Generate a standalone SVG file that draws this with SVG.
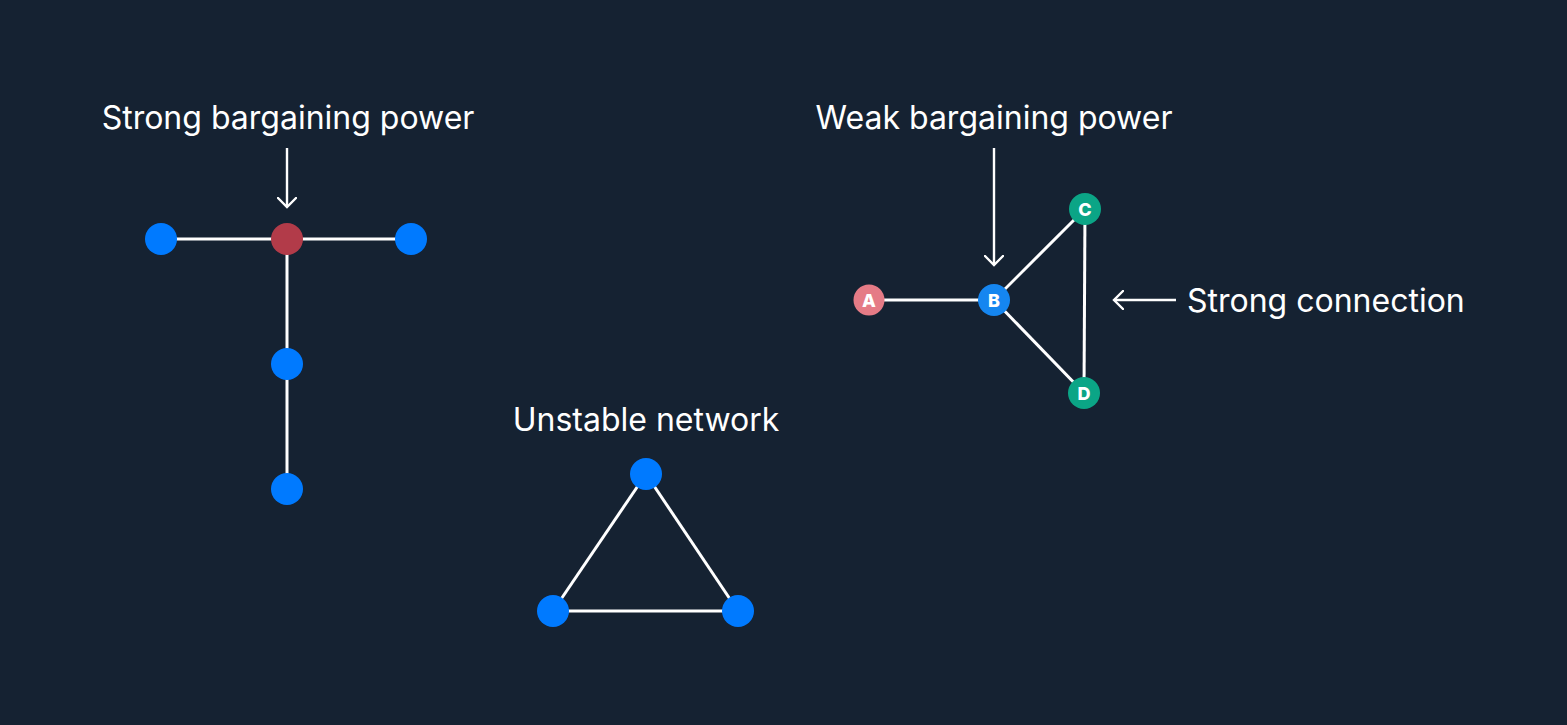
<svg xmlns="http://www.w3.org/2000/svg" width="1567" height="725" viewBox="0 0 1567 725">
<defs>
<marker id="chev" viewBox="0 0 20 20" refX="10" refY="10" markerWidth="20" markerHeight="20" markerUnits="userSpaceOnUse" orient="auto">
<path d="M1 1 L10 10 L1 19" fill="none" stroke="#ffffff" stroke-width="2.4" stroke-linecap="round"/>
</marker>
<style>
.lbl{font-family:Inter,"Noto Sans",sans-serif;font-size:32px;fill:#ffffff}
.edge{stroke:#ffffff;stroke-width:3;fill:none}
.arr{stroke:#ffffff;stroke-width:2.4;fill:none;marker-end:url(#chev)}
.blue{fill:#007AFF}
.letter{font-family:Inter,"Liberation Sans",sans-serif;font-size:18px;font-weight:800;fill:#ffffff;text-anchor:middle}
</style>
</defs>
<rect width="1567" height="725" fill="#152232"/>
<g id="connectors">
<line class="edge" x1="161" y1="239" x2="411" y2="239"/>
<line class="edge" x1="287" y1="239" x2="287" y2="489"/>
<line class="arr" x1="287" y1="148" x2="287" y2="207"/>
<line class="edge" x1="646" y1="474" x2="553" y2="611"/>
<line class="edge" x1="646" y1="474" x2="738" y2="611"/>
<line class="edge" x1="553" y1="611" x2="738" y2="611"/>
<line class="edge" x1="869" y1="300" x2="994" y2="300"/>
<line class="edge" x1="994" y1="300" x2="1085" y2="209"/>
<line class="edge" x1="994" y1="300" x2="1084" y2="393"/>
<line class="edge" x1="1085" y1="209" x2="1084" y2="393"/>
<line class="arr" x1="994" y1="148" x2="994" y2="265"/>
<line class="arr" x1="1176" y1="300" x2="1114" y2="300"/>
</g>
<g id="label-strong"><text class="lbl" x="288" y="129" text-anchor="middle">Strong bargaining power</text></g>
<g id="label-weak"><text class="lbl" x="994" y="129" text-anchor="middle">Weak bargaining power</text></g>
<g id="label-unstable"><text class="lbl" x="646" y="431" text-anchor="middle">Unstable network</text></g>
<g id="label-connection"><text class="lbl" x="1187" y="312">Strong connection</text></g>
<g id="t1"><circle class="blue" cx="161" cy="239" r="16"/></g>
<g id="t2"><circle cx="287" cy="239" r="16" fill="#B23B49"/></g>
<g id="t3"><circle class="blue" cx="411" cy="239" r="16"/></g>
<g id="t4"><circle class="blue" cx="287" cy="364" r="16"/></g>
<g id="t5"><circle class="blue" cx="287" cy="489" r="16"/></g>
<g id="u1"><circle class="blue" cx="646" cy="474" r="16"/></g>
<g id="u2"><circle class="blue" cx="553" cy="611" r="16"/></g>
<g id="u3"><circle class="blue" cx="738" cy="611" r="16"/></g>
<g id="nA"><circle cx="869" cy="300" r="15.5" fill="#E57B86"/><text class="letter" x="869" y="307">A</text></g>
<g id="nB"><circle cx="994" cy="300" r="16" fill="#1586F0"/><text class="letter" x="994" y="307">B</text></g>
<g id="nC"><circle cx="1085" cy="209" r="16" fill="#0BA586"/><text class="letter" x="1085" y="216">C</text></g>
<g id="nD"><circle cx="1084" cy="393" r="16" fill="#0BA586"/><text class="letter" x="1084" y="400">D</text></g>
</svg>
